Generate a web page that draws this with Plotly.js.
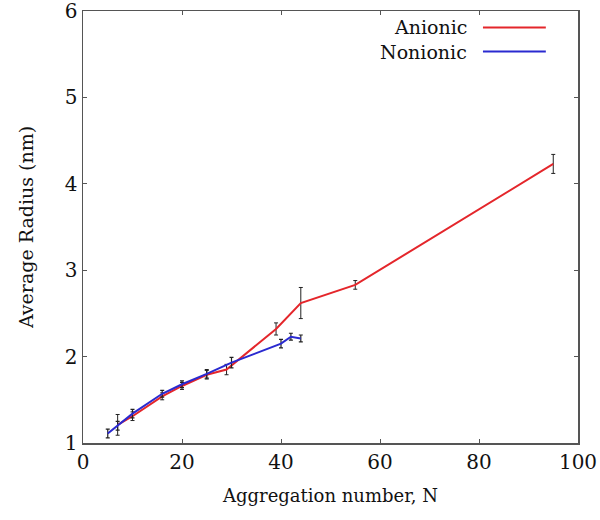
<!DOCTYPE html>
<html>
<head>
<meta charset="utf-8">
<script src="https://cdn.plot.ly/plotly-3.0.1.min.js"></script>
<style>html,body{margin:0;padding:0;background:#fff;}#chart{width:600px;height:520px;}</style>
</head>
<body>
<div id="chart"></div>
<script>
// Anionic series
const anionicN = [7, 10, 16, 20, 25, 29, 39, 44, 55, 95];
const anionicR = [1.21, 1.31, 1.54, 1.66, 1.79, 1.85, 2.32, 2.62, 2.83, 4.23];
const anionicErr = [0.12, 0.05, 0.04, 0.04, 0.05, 0.06, 0.07, 0.18, 0.05, 0.11];
// Nonionic series
const nonionicN = [5, 7, 10, 16, 20, 25, 30, 40, 42, 44];
const nonionicR = [1.11, 1.2, 1.34, 1.57, 1.68, 1.8, 1.93, 2.15, 2.23, 2.21];
const nonionicErr = [0.05, 0.05, 0.05, 0.04, 0.04, 0.05, 0.06, 0.05, 0.04, 0.04];
// Axis ticks
const xTicks = [0, 20, 40, 60, 80, 100];
const yTicks = [1, 2, 3, 4, 5, 6];
const seriesNames = ["Anionic", "Nonionic"];
const seriesColors = ["#e4262b", "#2a2ad0"];

const font = "DejaVu Serif";

const traces = [
  {
    x: anionicN, y: anionicR, name: seriesNames[0], mode: "lines", type: "scatter",
    line: {color: seriesColors[0], width: 2},
    error_y: {type: "data", array: anionicErr, visible: true, color: "#222", thickness: 1, width: 2}
  },
  {
    x: nonionicN, y: nonionicR, name: seriesNames[1], mode: "lines", type: "scatter",
    line: {color: seriesColors[1], width: 2},
    error_y: {type: "data", array: nonionicErr, visible: true, color: "#222", thickness: 1.2, width: 2}
  }
];

const axisCommon = {
  showline: true, linecolor: "#555", linewidth: 1.5, mirror: "ticks",
  ticks: "inside", ticklen: 4, tickcolor: "#555", tickwidth: 1,
  showgrid: false, zeroline: false, automargin: false,
  ticklabeloverflow: "allow",
  tickfont: {family: font, size: 20, color: "#111"}
};

const layout = {
  width: 600, height: 520,
  margin: {l: 83, r: 22, t: 11, b: 77},
  paper_bgcolor: "#fff", plot_bgcolor: "#fff",
  showlegend: false,
  font: {family: font},
  xaxis: Object.assign({}, axisCommon, {
    range: [0, 100], tickvals: xTicks, ticktext: xTicks.map(String),
    title: {text: "Aggregation number, N", font: {family: font, size: 18, color: "#111"}, standoff: 17}
  }),
  yaxis: Object.assign({}, axisCommon, {
    range: [1, 6], tickvals: yTicks, ticktext: yTicks.map(String),
    title: {text: "Average Radius (nm)", font: {family: font, size: 19, color: "#111"}, standoff: 26}
  }),
  annotations: seriesNames.map((n, i) => ({
    xref: "paper", yref: "paper", x: 0.779, y: 0.962 - i * 0.056,
    xanchor: "right", yanchor: "middle", showarrow: false,
    text: n, font: {family: font, size: 19, color: "#111"}
  })),
  shapes: seriesColors.map((c, i) => ({
    type: "line", xref: "paper", yref: "paper",
    x0: 0.808, x1: 0.935, y0: 0.962 - i * 0.056, y1: 0.962 - i * 0.056,
    line: {color: c, width: 2}
  }))
};

Plotly.newPlot("chart", traces, layout, {displayModeBar: false, staticPlot: true});
</script>
</body>
</html>
